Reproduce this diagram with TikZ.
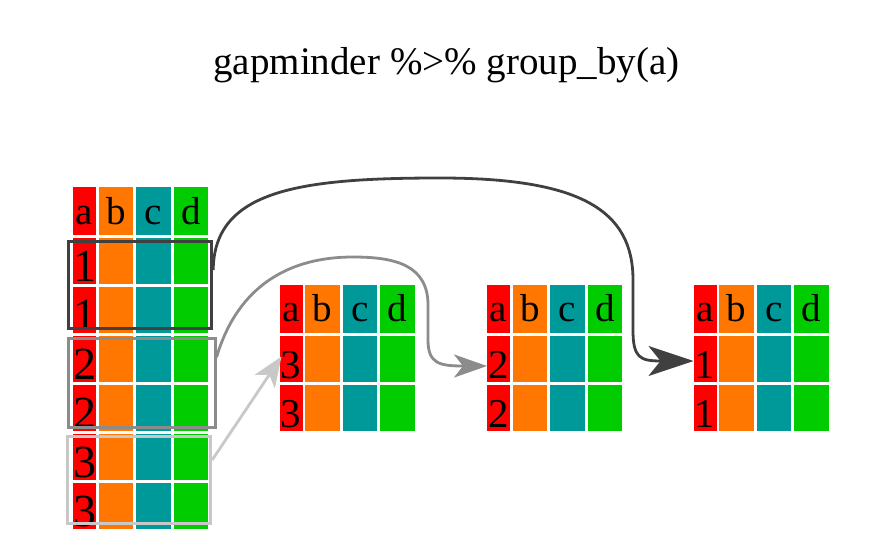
\documentclass[tikz,border=0pt]{standalone}
\usepackage{xcolor}
\usepackage{fontspec}
\setmainfont{Liberation Serif}
\usepackage{tikz}
\usetikzlibrary{arrows.meta}

\definecolor{colA}{HTML}{FF0000}
\definecolor{colB}{HTML}{FF7700}
\definecolor{colC}{HTML}{009999}
\definecolor{colD}{HTML}{00CC00}
\definecolor{grpDark}{HTML}{404040}
\definecolor{grpMid}{HTML}{8C8C8C}
\definecolor{grpLight}{HTML}{C8C8C8}

\begin{document}
\begin{tikzpicture}[x=1pt, y=-1pt,
    cell/.style={anchor=north west, inner sep=0pt, outer sep=0pt},
    headcell/.style={cell, minimum height=48pt, text height=37pt, text depth=11pt, font=\fontsize{39}{39}\selectfont},
    datacell/.style={cell, minimum height=46pt, text height=43pt, text depth=3pt, font=\fontsize{41}{41}\selectfont},
    bigdigit/.style={font=\fontsize{46}{46}\selectfont},
    cola/.style={fill=colA, minimum width=23pt},
    colb/.style={fill=colB, minimum width=34.5pt},
    colc/.style={fill=colC, minimum width=34.5pt},
    cold/.style={fill=colD, minimum width=34.5pt},
    groupbox/.style={draw, line width=3pt, inner sep=0pt},
    link/.style={line width=2.8pt}]
    \useasboundingbox (0,0) rectangle (896,556);

    % Title
    \node[font=\fontsize{39}{39}\selectfont, anchor=base] (title) at (446.5,75) {gapminder \%>\% group\_by(a)};

    % Table 1: full data
    \foreach \c/\dx in {a/0, b/25.5, c/63, d/100.5}
        \node[headcell, col\c] (t1-\c-0) at (73+\dx, 187) {\c};
    \foreach \r/\v in {1/1, 2/1, 3/2, 4/2, 5/3, 6/3} {
        \node[datacell, bigdigit, cola] (t1-a-\r) at (73, 187+49*\r+2) {\v};
        \foreach \c/\dx in {b/25.5, c/63, d/100.5}
            \node[datacell, col\c] (t1-\c-\r) at (73+\dx, 187+49*\r+2) {};
    }

    % Tables 2-4: one per group
    \foreach \t/\tx/\v in {2/279.5/3, 3/487/2, 4/693.5/1} {
        \foreach \c/\dx in {a/0, b/25.5, c/63, d/100.5}
            \node[headcell, col\c] (t\t-\c-0) at (\tx+\dx, 284.5) {\c};
        \foreach \r in {1, 2} {
            \node[datacell, cola] (t\t-a-\r) at (\tx, 284.5+49*\r+2) {\v};
            \foreach \c/\dx in {b/25.5, c/63, d/100.5}
                \node[datacell, col\c] (t\t-\c-\r) at (\tx+\dx, 284.5+49*\r+2) {};
        }
    }

    % Group boxes
    \node[groupbox, draw=grpDark, minimum width=143.4pt, minimum height=86.6pt] (gdark) at (140,285) {};
    \node[groupbox, draw=grpMid, minimum width=147pt, minimum height=88.7pt] (gmid) at (141.5,383.3) {};
    \node[groupbox, draw=grpLight, minimum width=142.7pt, minimum height=86.6pt] (glight) at (139.3,480) {};

    % Arrows
    \draw[link, grpDark, -{Stealth[length=45pt, width=30pt, inset=12pt]}]
        ([yshift=15pt]gdark.east) .. controls (214,190) and (300,178) .. (440,178)
        .. controls (580,178) and (633,210) .. (633,280) -- (633,330)
        .. controls (633,358) and (640,361) .. ([yshift=-2.5pt]t4-a-1.west);
    \draw[link, grpMid, -{Stealth[length=33pt, width=23pt, inset=9pt]}]
        ([yshift=26pt]gmid.east) .. controls (238,285) and (290,257) .. (353,257)
        .. controls (395,257) and (428,265) .. (428,305) -- (428,340)
        .. controls (428,364) and (440,366) .. ([yshift=-7.5pt]t3-a-1.west);
    \draw[link, grpLight, -{Stealth[length=30pt, width=24pt, inset=8pt]}]
        ([yshift=20pt]glight.east) -- ([xshift=2pt, yshift=2pt]t2-a-1.west);
\end{tikzpicture}
\end{document}
